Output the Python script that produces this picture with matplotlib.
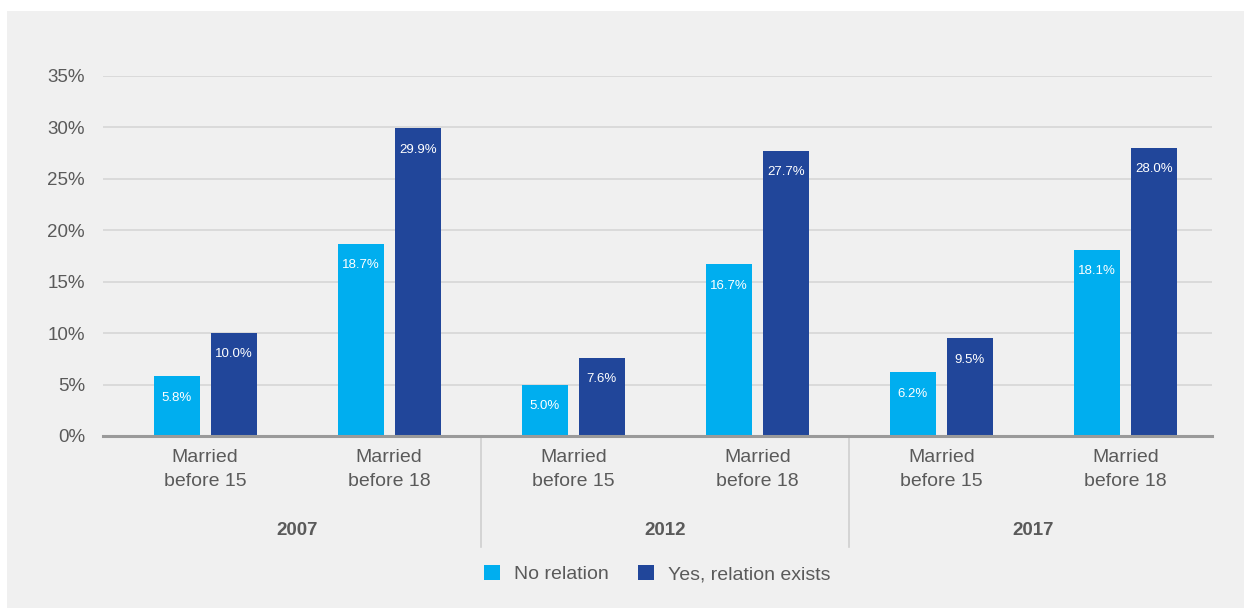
import numpy as np
import matplotlib.pyplot as plt
from matplotlib.patches import Rectangle

plt.rcParams['font.family'] = ['Liberation Sans', 'DejaVu Sans']

# data
years = ['2007', '2012', '2017']
categories = ['Married\nbefore 15', 'Married\nbefore 18'] * 3
no_relation = [5.8, 18.7, 5.0, 16.7, 6.2, 18.1]
yes_relation = [10.0, 29.9, 7.6, 27.7, 9.5, 28.0]
series_names = ['No relation', 'Yes, relation exists']

light = '#00AEEF'
dark = '#21469A'
txt = '#5a5a5a'

W, H = 1244, 608
fig = plt.figure(figsize=(W / 100, H / 100), dpi=100, facecolor='white')
bg = Rectangle((7 / W, 0), 1, 1 - 11 / H, transform=fig.transFigure,
               facecolor='#F0F0F0', edgecolor='none', zorder=-10)
fig.add_artist(bg)

ax = fig.add_axes([103 / W, 1 - 436 / H, (1212 - 103) / W, (436 - 76) / H])
ax.set_facecolor('none')

x = np.arange(len(categories))
bw = 0.25
off = 0.155
b1 = ax.bar(x - off, no_relation, bw, color=light, label=series_names[0], zorder=3)
b2 = ax.bar(x + off, yes_relation, bw, color=dark, label=series_names[1], zorder=3)

for bars, vals in [(b1, no_relation), (b2, yes_relation)]:
    for b, v in zip(bars, vals):
        ax.annotate(f'{v:.1f}%', (b.get_x() + b.get_width() / 2, v),
                    xytext=(0, -11), textcoords='offset points',
                    ha='center', va='top', color='white', fontsize=9.5, zorder=4)

ax.set_xlim(-0.555, 5.47)
ax.set_ylim(0, 35)
ax.set_yticks(np.arange(0, 36, 5))
ax.set_yticklabels([f'{t}%' for t in range(0, 36, 5)])
ax.yaxis.grid(True, color='#d6d6d6', linewidth=1.2, zorder=0)
ax.tick_params(axis='y', length=0, pad=13, labelsize=13.5, labelcolor=txt)

ax.set_xticks(x)
ax.set_xticklabels(categories, linespacing=1.55)
ax.tick_params(axis='x', length=0, pad=9, labelsize=14, labelcolor=txt)

for s in ['top', 'right', 'left']:
    ax.spines[s].set_visible(False)
ax.spines['bottom'].set_color('#9a9a9a')
ax.spines['bottom'].set_linewidth(2.2)
ax.spines['bottom'].set_zorder(5)

# group separators and year labels
for sx in [1.5, 3.5]:
    ax.plot([sx, sx], [0, -10.8], color='#cfcfcf', linewidth=1.2, clip_on=False)
for i, yr in enumerate(years):
    ax.text(2 * i + 0.5, -9.15, yr, ha='center', va='center', fontsize=13.5,
            fontweight='bold', color=txt)

ax.legend(loc='center', bbox_to_anchor=(0.5, 1 - (574 - 76) / 360),
          bbox_transform=ax.transAxes, ncol=2, frameon=False, fontsize=14,
          handlelength=0.8, handleheight=0.8, handletextpad=0.75,
          columnspacing=1.5, labelcolor=txt)

fig.savefig('out.png', dpi=100, facecolor=fig.get_facecolor())
